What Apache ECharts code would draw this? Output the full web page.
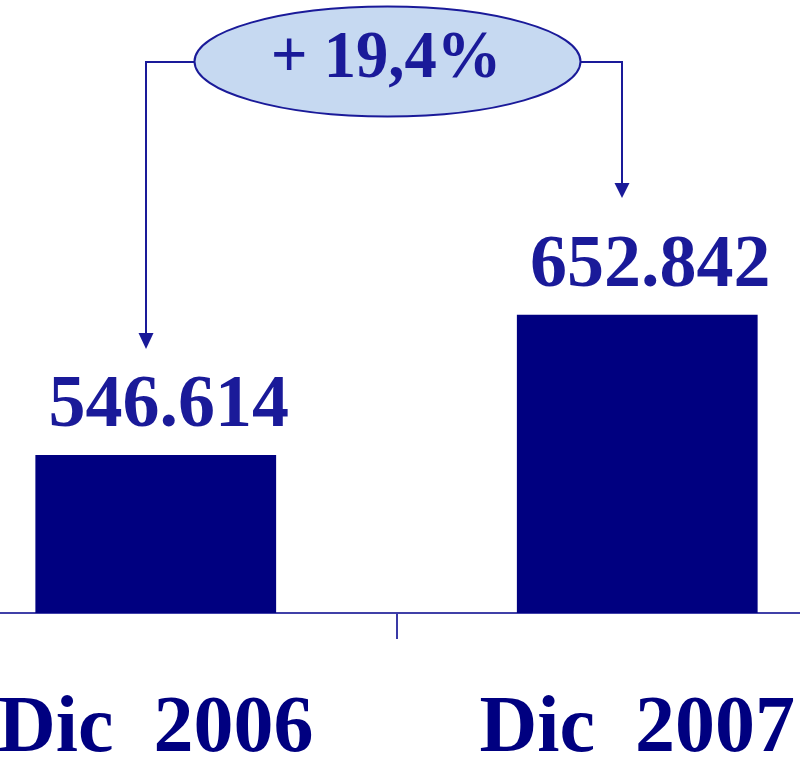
<!DOCTYPE html>
<html>
<head>
<meta charset="utf-8">
<script src="https://cdn.jsdelivr.net/npm/echarts@6/dist/echarts.min.js"></script>
<style>
  html, body { margin: 0; padding: 0; background: #fff; }
  #main { width: 800px; height: 757px; }
</style>
</head>
<body>
<div id="main"></div>
<script>
// datos
var categories = ['Dic 2006', 'Dic 2007'];
var values = [546614, 652842];

var serif = "'Liberation Serif', 'Times New Roman', serif";

// 546614 -> 546.614
function fmt(v) {
  return String(v).replace(/\B(?=(\d{3})+(?!\d))/g, '.');
}
// variacion porcentual entre los dos cierres
var pct = ((values[1] / values[0] - 1) * 100).toFixed(1).replace('.', ',');

var myChart = echarts.init(document.getElementById('main'));
myChart.setOption({
  animation: false,
  backgroundColor: '#ffffff',
  grid: {
    top: 0,
    bottom: 144,
    left: -85,
    right: -78,
    containLabel: false,
    outerBoundsMode: 'none'
  },
  xAxis: {
    type: 'category',
    data: categories,
    boundaryGap: true,
    axisLine: { show: true, lineStyle: { color: '#4040a8', width: 2 } },
    axisTick: {
      show: true,
      inside: false,
      interval: 0,
      alignWithLabel: false,
      length: 26,
      lineStyle: { color: '#3a3aa6', width: 2 }
    },
    axisLabel: {
      interval: 0,
      hideOverlap: false,
      margin: 77,
      color: '#000080',
      fontFamily: serif,
      fontWeight: 'bold',
      fontSize: 80,
      formatter: function (v) { return v.replace(' ', '  '); }
    }
  },
  yAxis: {
    type: 'value',
    show: false,
    min: 427000,
    max: 891000,
    splitLine: { show: false }
  },
  series: [{
    type: 'bar',
    data: values,
    barWidth: '50%',
    itemStyle: { color: '#000080' },
    label: {
      show: true,
      position: 'top',
      distance: 11,
      offset: [13, 0],
      color: '#1a1a99',
      fontFamily: serif,
      fontWeight: 'bold',
      fontSize: 74,
      formatter: function (p) { return fmt(p.value); }
    }
  }],
  graphic: [
    {
      type: 'polyline',
      shape: { points: [[194, 62], [146, 62], [146, 334]] },
      style: { stroke: '#1a1a99', lineWidth: 2, fill: null }
    },
    {
      type: 'polygon',
      shape: { points: [[138.5, 333], [153.5, 333], [146, 349]] },
      style: { fill: '#1a1a99' }
    },
    {
      type: 'polyline',
      shape: { points: [[581, 62], [622, 62], [622, 184]] },
      style: { stroke: '#1a1a99', lineWidth: 2, fill: null }
    },
    {
      type: 'polygon',
      shape: { points: [[614.5, 183], [629.5, 183], [622, 198]] },
      style: { fill: '#1a1a99' }
    },
    {
      type: 'ellipse',
      shape: { cx: 387.5, cy: 61.5, rx: 193, ry: 55 },
      style: { fill: '#c6d9f1', stroke: '#1a1a99', lineWidth: 2 }
    },
    {
      type: 'text',
      x: 386,
      y: 59,
      scaleX: 0.95,
      style: {
        text: '+ ' + pct + '%',
        fill: '#1a1a99',
        font: 'bold 68px ' + serif,
        textAlign: 'center',
        textVerticalAlign: 'middle'
      }
    }
  ]
});
</script>
</body>
</html>
